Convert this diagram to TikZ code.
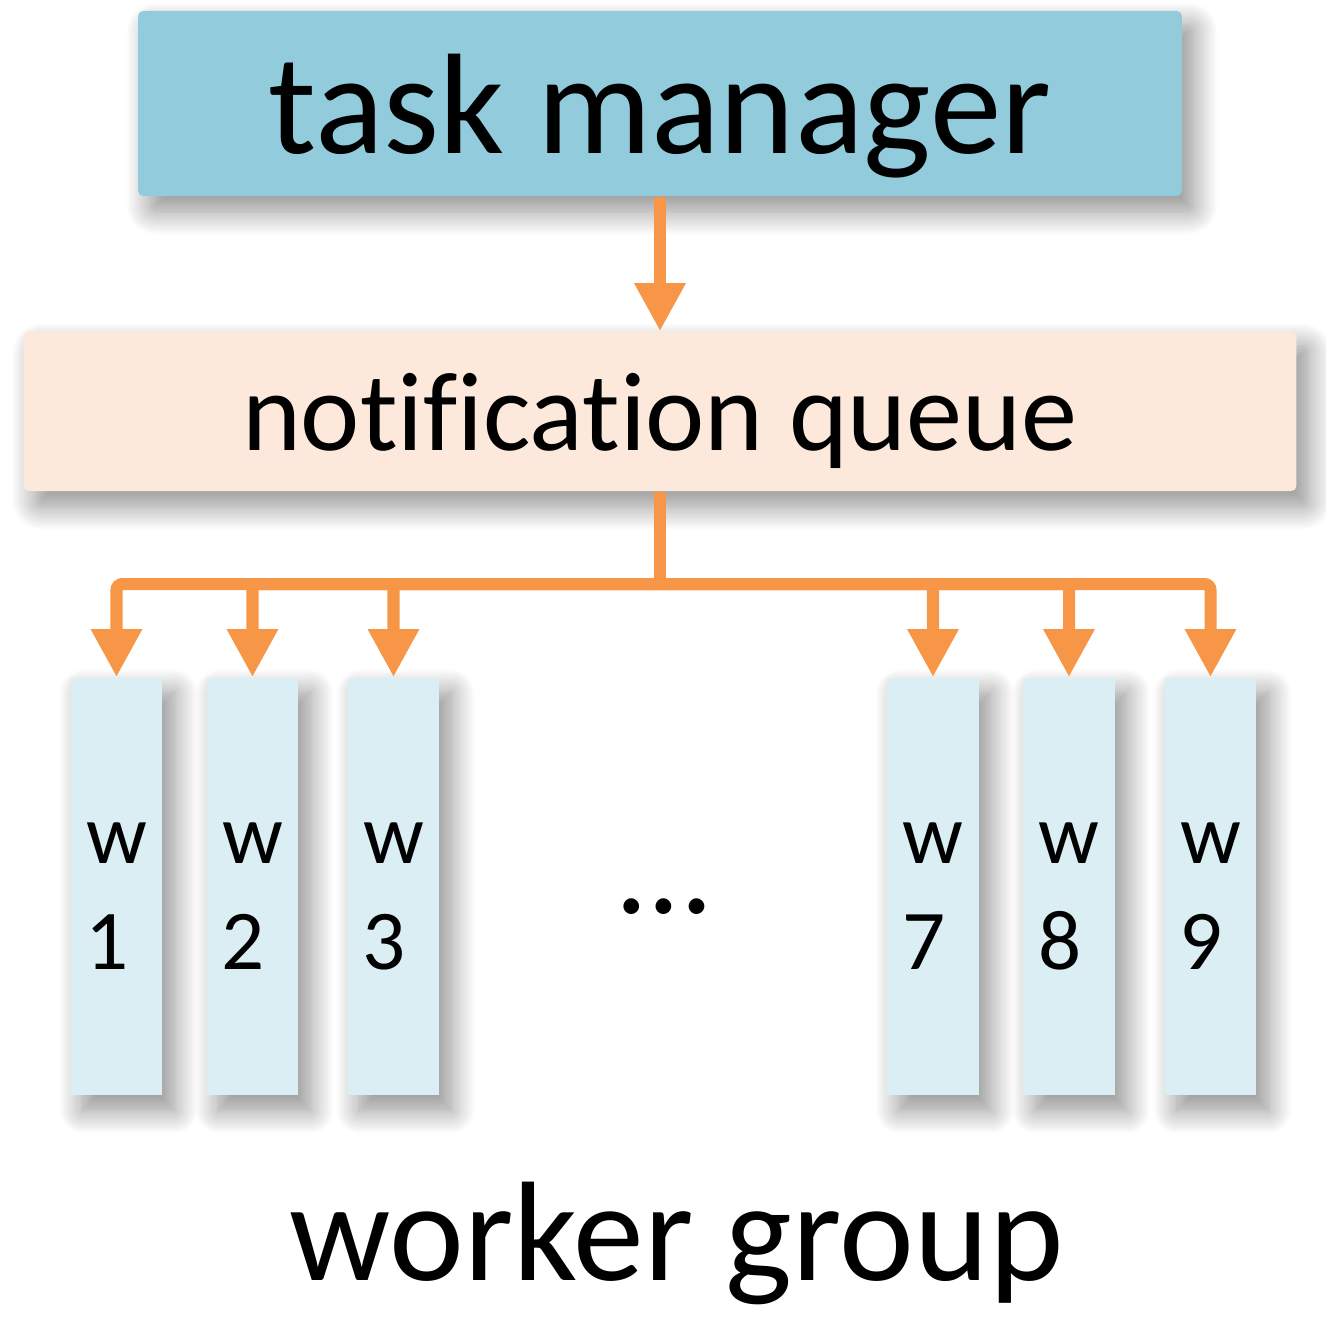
\documentclass[tikz,border=0pt]{standalone}
\usepackage{fontspec}
\setmainfont[Ligatures={NoCommon}]{Carlito}
\usetikzlibrary{arrows.meta,shadows.blur}
\definecolor{tmblue}{HTML}{92CBDC}
\definecolor{nqpeach}{HTML}{FCE9DB}
\definecolor{wkblue}{HTML}{DAEEF3}
\definecolor{flowc}{HTML}{F79646}
\begin{document}
\begin{tikzpicture}[x=0.01cm,y=-0.01cm,
  shad/.style={blur shadow={shadow xshift=0.12cm, shadow yshift=-0.15cm,
      shadow blur radius=0.24cm, shadow opacity=45, shadow blur steps=20}},
  bigbox/.style={shad, rectangle, rounded corners=0.05cm, inner sep=0pt, draw=none},
  tmbox/.style={bigbox, fill=tmblue, minimum width=10.43cm, minimum height=1.85cm,
      font=\fontsize{40.7}{49}\selectfont, text height=1.15cm, text depth=0.16cm},
  nqbox/.style={bigbox, fill=nqpeach, minimum width=12.72cm, minimum height=1.59cm,
      font=\fontsize{31.9}{38}\selectfont, text height=0.9cm, text depth=0.13cm},
  wkbox/.style={shad, rectangle, fill=wkblue, draw=none, inner sep=0pt,
      minimum width=0.91cm, minimum height=4.17cm},
  wktext/.style={anchor=base, inner sep=0pt, font=\fontsize{24.2}{29}\selectfont},
  bigtext/.style={anchor=base, inner sep=0pt, font=\fontsize{40.3}{48}\selectfont},
  flowline/.style={draw=flowc, line width=0.12cm},
  flowarrow/.style={flowline, rounded corners=0.06cm,
      -{Triangle[width=0.48cm,length=0.48cm]}}
]
\useasboundingbox (0,0) rectangle (1326,1317);

\node[tmbox] (tm) at (660,103.5) {task manager};
\node[nqbox] (nq) at (660,411.5) {notification queue};

\node[wkbox] (w1) at (116.5,886.5) {};
\node[wkbox] (w2) at (252.5,886.5) {};
\node[wkbox] (w3) at (393.5,886.5) {};
\node[wkbox] (w7) at (933,886.5) {};
\node[wkbox] (w8) at (1069,886.5) {};
\node[wkbox] (w9) at (1210.5,886.5) {};

\foreach \n/\x in {1/116.5,2/252.5,3/393.5,7/933,8/1069,9/1210.5}{
  \node[wktext] (w\n w) at (\x,863) {w};
  \node[wktext] (w\n n) at (\x-9,969) {\n};
}

\node[anchor=base, inner sep=0pt, font=\fontsize{37}{44}\selectfont] (dots) at (664,913) {…};
\node[bigtext] (wg) at (676.5,1280) {worker group};

\draw[flowarrow] (tm.south) -- (nq.north);
\coordinate (bus) at (660,584);
\draw[flowline] (nq.south) -- (bus);
\foreach \n in {1,2,3,7,8,9}{
  \draw[flowarrow] (bus) -| (w\n.north);
}
\end{tikzpicture}
\end{document}
